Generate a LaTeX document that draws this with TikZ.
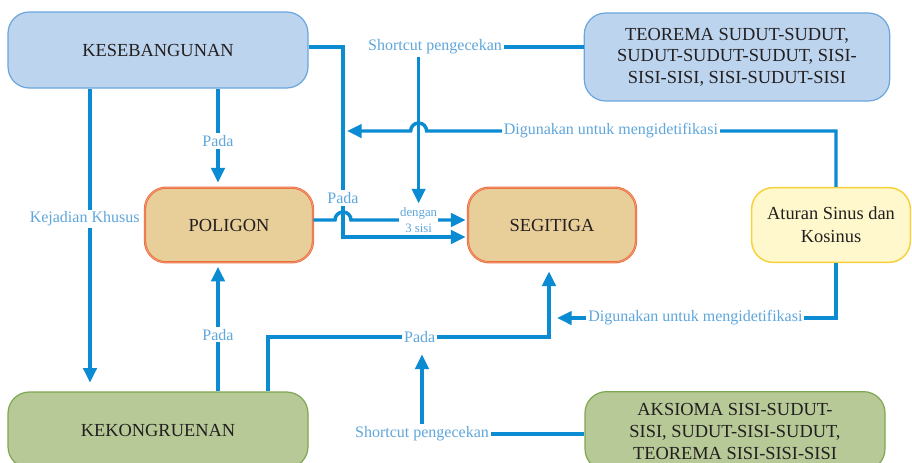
\documentclass[tikz,border=0pt]{standalone}
\usepackage{fontspec}
\setmainfont{Liberation Serif}
\newfontfamily\tmsfont{Liberation Serif}
\usetikzlibrary{arrows.meta,positioning,calc}
\definecolor{lnc}{HTML}{0B8BD1}
\definecolor{lbc}{HTML}{5FA6DB}
\definecolor{txc}{HTML}{231F20}
\definecolor{bluF}{HTML}{BDD4EE}
\definecolor{bluD}{HTML}{6AA6DD}
\definecolor{orgF}{HTML}{E8CF9A}
\definecolor{orgD}{HTML}{EA6A3C}
\definecolor{orgL}{HTML}{F4A47C}
\definecolor{ylwF}{HTML}{FFF8CC}
\definecolor{ylwD}{HTML}{F8D13A}
\definecolor{grnF}{HTML}{B6C997}
\definecolor{grnD}{HTML}{7FA652}

\begin{document}
\begin{tikzpicture}[
  x=0.75pt, y=-0.75pt,
  ln/.style={line width=2.6pt, draw=lnc},
  arr/.style={ln, -{Triangle[width=10pt,length=11pt]}},
  box/.style={rounded corners=16pt, text=txc, align=center, line width=0.9pt,
    font=\tmsfont\fontsize{13.8}{16}\selectfont},
  blu/.style={box, fill=bluF, draw=bluD},
  org/.style={box, fill=orgF, draw=orgD, double=orgL, double distance=0.5pt, line width=0.6pt},
  ylw/.style={box, fill=ylwF, draw=ylwD, line width=1.1pt},
  grn/.style={box, fill=grnF, draw=grnD},
  lbl/.style={text=lbc, fill=white, inner sep=1.5pt, font=\tmsfont\fontsize{12}{14}\selectfont},
  lbs/.style={text=lbc, fill=white, inner sep=1pt, align=center, font=\tmsfont\fontsize{9.6}{11.5}\selectfont}
]
  \useasboundingbox (0,0) rectangle (912,462);

  \node[blu, minimum width=225pt, minimum height=57pt] (KSB) at (158,50) {KESEBANGUNAN};
  \node[blu, minimum width=229pt, minimum height=66pt] (TEO) at (737,57)
    {TEOREMA SUDUT-SUDUT,\\SUDUT-SUDUT-SUDUT, SISI-\\SISI-SISI, SISI-SUDUT-SISI};
  \node[org, minimum width=126pt, minimum height=56pt] (POL) at (229,225) {POLIGON};
  \node[org, minimum width=126pt, minimum height=56pt] (SEG) at (552,225) {SEGITIGA};
  \node[ylw, minimum width=119pt, minimum height=56pt, font=\tmsfont\fontsize{13.8}{17}\selectfont]
    (ATR) at (831,225) {Aturan Sinus dan\\Kosinus};
  \node[grn, minimum width=225pt, minimum height=57pt] (KKG) at (158,430) {KEKONGRUENAN};
  \node[grn, minimum width=225pt, minimum height=59pt, font=\tmsfont\fontsize{13.8}{16.5}\selectfont]
    (AKS) at (735,431) {AKSIOMA SISI-SUDUT-\\SISI, SUDUT-SISI-SUDUT,\\TEOREMA SISI-SISI-SISI};

  \coordinate (xA) at (90,0);
  \coordinate (xB) at (218,0);
  \coordinate (c4a) at (343,47);
  \coordinate (c4b) at (343,237);
  \coordinate (h1) at (335,220);
  \coordinate (r1) at (836,131);
  \coordinate (r2) at (836,318);
  \coordinate (p1) at (268,337);
  \coordinate (p2) at (549,337);

  \draw[arr, shorten >=6.5pt] (KSB.south -| xA) -- node[lbl, pos=.43, xshift=-4pt] {Kejadian Khusus} (KKG.north -| xA);
  \draw[arr, shorten >=3.5pt] (KSB.south -| xB) -- node[lbl, pos=.53] {Pada} (POL.north -| xB);
  \draw[arr, shorten >=3pt] (KKG.north -| xB) -- node[lbl, pos=.44] {Pada} (POL.south -| xB);
  \draw[arr, shorten >=1.5pt] (KSB.east |- c4a) -- (c4a) -- node[lbl, pos=.795] {Pada} (c4b) -- (SEG.west |- c4b);
  \draw[arr, shorten >=1.5pt] (POL.east |- h1) -- (h1) arc[start angle=180, end angle=0, radius=6pt]
    -- node[lbs, pos=.58] (DGN) {dengan\\3 sisi} (SEG.west |- h1);

  \node[lbl] (SC1) at (435,47) {Shortcut pengecekan};
  \draw[ln] (TEO.west |- SC1) -- (SC1.east);
  \draw[arr, shorten >=1pt] (SC1.south -| DGN) -- (DGN.north);

  \draw[arr, shorten >=3pt] (ATR.north -| r1) -- (r1) -- node[lbl, pos=.55] {Digunakan untuk mengidetifikasi}
    ($(DGN |- r1)+(8,0)$) arc[start angle=0, end angle=180, radius=6pt] -- (c4a |- r1);
  \draw[arr, shorten >=6pt] (ATR.south -| r2) -- (r2) -- node[lbl, pos=.49] {Digunakan untuk mengidetifikasi} (p2 |- r2);

  \draw[arr, shorten >=6.5pt] (KKG.north -| p1) -- (p1) -- node[lbl, pos=.54] (PD3) {Pada} (p2) -- (SEG.south -| p2);
  \node[lbl] (SC2) at (422,434) {Shortcut pengecekan};
  \draw[ln] (AKS.west |- SC2) -- (SC2.east);
  \draw[arr, shorten >=6pt] (SC2.north) -- (SC2.north |- PD3.south);
\end{tikzpicture}
\end{document}
